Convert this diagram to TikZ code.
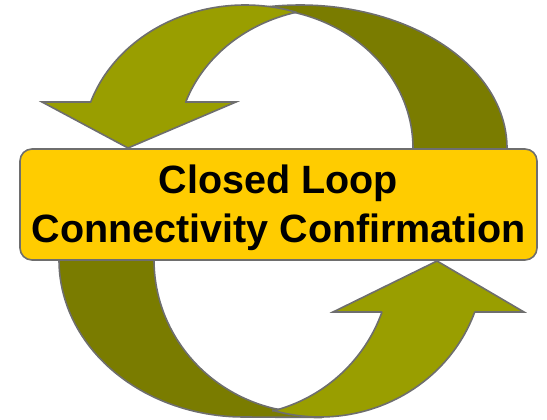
\documentclass[tikz,border=0pt]{standalone}
\usepackage{fontspec}
\setmainfont{Liberation Sans}
\definecolor{oliveLight}{RGB}{153,158,0}
\definecolor{oliveDark}{RGB}{122,124,0}
\definecolor{edgeGrey}{RGB}{110,110,110}
\definecolor{boxGold}{RGB}{255,204,0}
\tikzset{
  band/.style={draw=edgeGrey, line width=1.6pt, line join=miter},
  frontband/.style={band, fill=oliveLight},
  backband/.style={band, fill=oliveDark},
  titlebox/.style={draw=edgeGrey, line width=1.6pt, fill=boxGold,
    rounded corners=12pt, minimum width=517pt, minimum height=111pt,
    inner sep=0pt},
  titletext/.style={align=center, inner sep=0pt,
    font=\fontsize{39.5}{49}\selectfont\bfseries},
  arcpts/.style={samples=60, variable=\t}
}
\begin{document}
\begin{tikzpicture}[x=1pt, y=-1pt]
\useasboundingbox (0,0) rectangle (547,420);

% upper half: back band on the right
\filldraw[backband] (296,12.8)
  -- plot[arcpts, domain=-75:10] ({255+158*cos(\t)},{148+140*sin(\t)})
  -- plot[arcpts, domain=10:-100] ({300+207*cos(\t)},{148+143*sin(\t)})
  -- cycle;
% upper half: arrow on the left pointing down
\filldraw[frontband] (90.6,102) -- (42,102) -- (128,148) -- (236,102) -- (185.8,102)
  -- plot[arcpts, domain=199.2:255.7] ({335+158*cos(\t)},{148+140*sin(\t)})
  -- plot[arcpts, domain=-71.8:-161.2] ({245+163*cos(\t)},{148+143*sin(\t)})
  -- cycle;

% lower half: back band on the left
\filldraw[backband] (273,408.3)
  -- plot[arcpts, domain=104.3:190] ({312+158*cos(\t)},{260+153*sin(\t)})
  -- plot[arcpts, domain=190:90] ({244+185*cos(\t)},{260+157*sin(\t)})
  -- (322,417.5)
  -- cycle;
% lower half: arrow on the right pointing up
\filldraw[frontband] (474.7,312) -- (524,312) -- (437,261) -- (333,312) -- (382,312)
  -- plot[arcpts, domain=19.47:75.3] ({233+158*cos(\t)},{260+156*sin(\t)})
  -- plot[arcpts, domain=106.65:19.34] ({320+164*cos(\t)},{260+157*sin(\t)})
  -- cycle;

% caption box
\node[titlebox] (box) at (278.5,204.5) {};
\node[titletext] (title) at (278.5,207.5) {Closed Loop\\Connectivity Confirmation};
\end{tikzpicture}
\end{document}
